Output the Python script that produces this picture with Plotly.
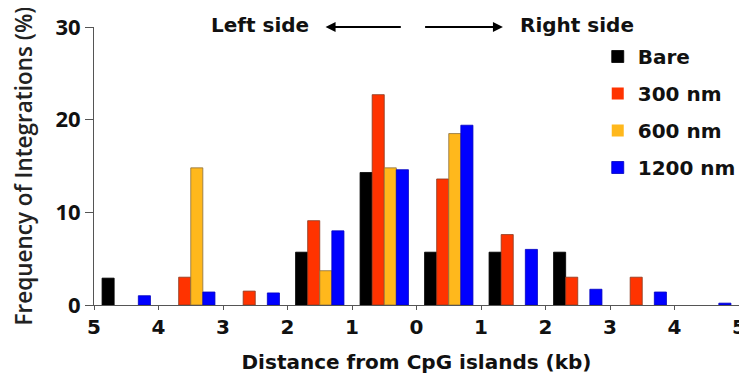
import plotly.graph_objects as go

# Bin centers (kb): negative = left side of CpG island, positive = right side
bin_centers = [-4.5, -3.5, -2.5, -1.5, -0.5, 0.5, 1.5, 2.5, 3.5, 4.5]
tick_vals = [-5, -4, -3, -2, -1, 0, 1, 2, 3, 4, 5]
tick_text = ["5", "4", "3", "2", "1", "0", "1", "2", "3", "4", "5"]

series_names = ["Bare", "300 nm", "600 nm", "1200 nm"]
bare = [2.9, 0, 0, 5.7, 14.3, 5.7, 5.7, 5.7, 0, 0]
nm300 = [0, 3.0, 1.5, 9.1, 22.7, 13.6, 7.6, 3.0, 3.0, 0]
nm600 = [0, 14.8, 0, 3.7, 14.8, 18.5, 0, 0, 0, 0]
nm1200 = [1.0, 1.4, 1.3, 8.0, 14.6, 19.4, 6.0, 1.7, 1.4, 0.2]
colors = ["#000000", "#FF3300", "#FFB81C", "#0000FF"]
edge_colors = ["#000000", "#8a3a20", "#8a7040", "#0000c0"]

BOLD = "DejaVu Sans"
TXT = "#111111"

fig = go.Figure()
for i, (name, vals) in enumerate(zip(series_names, [bare, nm300, nm600, nm1200])):
    fig.add_trace(go.Bar(
        x=bin_centers, y=vals, name=name, legendgroup=name,
        marker=dict(color=colors[i],
                    line=dict(color=edge_colors[i], width=[0.8 if v > 0 else 0 for v in vals])),
    ))

# page body has an 8px default margin, so the figure is sized to fit the window
fig.update_layout(
    width=739, height=375,
    margin=dict(l=86, r=8, t=19, b=78, autoexpand=False),
    paper_bgcolor="white", plot_bgcolor="white",
    barmode="group", bargap=0.25, bargroupgap=0,
    showlegend=True,
    legend=dict(
        x=0.781, y=0.964, xanchor="left", yanchor="top",
        font=dict(family=BOLD, size=20, color=TXT, weight="bold"),
        tracegroupgap=8, bgcolor="rgba(0,0,0,0)",
    ),
    xaxis=dict(
        range=[-5, 5], tickmode="array", tickvals=tick_vals, ticktext=tick_text,
        automargin=False,
        showline=True, linecolor="#555555", linewidth=1, showgrid=False, zeroline=False,
        ticks="outside", ticklen=4, tickcolor="#555555", tickwidth=1,
        tickfont=dict(family=BOLD, size=20, color=TXT, weight="bold"),
        title=dict(text="Distance from CpG islands (kb)", standoff=16,
                   font=dict(family=BOLD, size=20, color=TXT, weight="bold")),
    ),
    yaxis=dict(
        range=[0, 30], tickvals=[0, 10, 20, 30], automargin=False,
        showline=True, linecolor="#555555", linewidth=1, showgrid=False, zeroline=False,
        ticks="outside", ticklen=8, tickcolor="#555555", tickwidth=1,
        ticksuffix="\u2002",
        tickfont=dict(family="Open Sans", size=22, color=TXT, weight="bold"),
        title=dict(text="Frequency of Integrations (%)", standoff=20,
                   font=dict(family="Open Sans", size=22.5, color="#222222", weight=600)),
    ),
)

fig.add_annotation(x=-2.43, y=1.008, xref="x", yref="paper", text="Left side", showarrow=False,
                   font=dict(family=BOLD, size=20, color=TXT, weight="bold"),
                   xanchor="center", yanchor="middle")
fig.add_annotation(x=2.49, y=1.008, xref="x", yref="paper", text="Right side", showarrow=False,
                   font=dict(family=BOLD, size=20, color=TXT, weight="bold"),
                   xanchor="center", yanchor="middle")
fig.add_annotation(x=-1.41, y=1.0, ax=-0.22, ay=0, xref="x", yref="paper", axref="x", ayref="pixel",
                   text="", showarrow=True, arrowhead=2, arrowsize=1, arrowwidth=2, arrowcolor="#000000")
fig.add_annotation(x=1.34, y=1.0, ax=0.11, ay=0, xref="x", yref="paper", axref="x", ayref="pixel",
                   text="", showarrow=True, arrowhead=2, arrowsize=1, arrowwidth=2, arrowcolor="#000000")

fig.write_html("out.html")
